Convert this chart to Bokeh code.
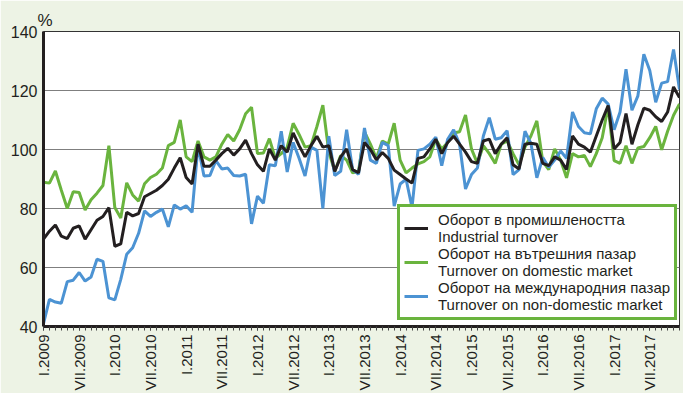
import numpy as np
from bokeh.plotting import figure
from bokeh.models import Range1d, FixedTicker, Legend, LegendItem
from bokeh.embed import file_html
from bokeh.resources import INLINE

# Monthly indices, I.2009 .. XII.2017 (%)
industrial = [
    69.6, 72.3, 74.4, 70.6, 69.8, 73.3, 74.1, 69.6, 72.8, 76.0, 77.3, 80.3,
    67.2, 68.0, 78.7, 77.5, 78.3, 84.0, 85.1, 86.2, 87.8, 89.9, 93.7, 97.2,
    90.5, 88.3, 101.8, 94.3, 94.3, 96.4, 98.6, 100.4, 98.1, 100.2, 103.2, 98.6,
    94.8, 92.6, 100.2, 96.4, 101.3, 99.1, 105.6, 101.3, 97.5, 101.3, 104.5, 100.8,
    101.3, 92.6, 97.5, 100.2, 93.2, 92.1, 102.4, 100.0, 96.5, 99.0, 97.0, 93.0,
    91.5, 90.0, 88.6, 97.0, 97.5, 100.2, 103.5, 98.6, 102.4, 104.5, 101.8, 99.1,
    95.9, 95.3, 102.9, 103.5, 98.6, 101.8, 104.0, 94.8, 93.4, 101.8, 102.1, 101.8,
    95.3, 94.5, 97.5, 96.4, 93.2, 104.6, 101.8, 100.8, 99.1, 104.6, 110.0, 114.9,
    100.2, 102.4, 112.2, 101.8, 108.4, 114.0, 113.3, 111.1, 109.5, 112.7, 121.2, 117.6,
]
domestic = [
    88.9, 88.6, 92.7, 86.2, 80.0, 85.7, 85.4, 79.5, 83.0, 85.2, 87.8, 101.3,
    80.3, 76.8, 88.7, 84.6, 82.5, 88.4, 90.5, 91.6, 93.7, 101.3, 102.4, 110.0,
    97.5, 95.9, 102.9, 97.5, 96.4, 97.5, 101.8, 105.1, 102.9, 106.7, 112.1, 114.3,
    98.6, 98.8, 103.7, 97.0, 98.6, 100.8, 108.9, 105.1, 100.8, 101.3, 107.8, 115.0,
    99.1, 92.6, 98.0, 96.4, 92.1, 92.6, 106.0, 101.8, 97.0, 102.9, 101.8, 108.9,
    96.4, 92.1, 93.7, 95.1, 95.9, 97.5, 103.5, 100.2, 102.4, 105.6, 106.0, 111.7,
    100.2, 95.3, 101.3, 98.6, 95.3, 101.8, 102.9, 98.6, 94.8, 100.8, 104.6, 109.7,
    95.9, 93.2, 100.2, 96.4, 90.4, 98.6, 97.5, 98.0, 94.2, 98.6, 104.0, 114.7,
    96.2, 95.3, 101.3, 95.3, 100.5, 101.0, 104.0, 107.8, 99.9, 106.2, 111.6, 115.4,
]
non_domestic = [
    41.0, 49.2, 48.3, 47.9, 55.2, 55.7, 58.3, 55.4, 56.8, 62.8, 62.1, 49.7,
    49.0, 56.0, 64.5, 66.7, 71.6, 79.2, 77.3, 78.7, 79.8, 73.8, 81.2, 79.8,
    80.9, 78.7, 101.3, 91.0, 91.2, 96.2, 93.4, 93.7, 91.2, 91.0, 91.6, 74.8,
    84.2, 81.8, 94.8, 94.5, 106.2, 92.4, 102.4, 97.0, 91.0, 100.8, 99.7, 80.0,
    104.5, 91.2, 92.6, 106.7, 93.2, 91.6, 107.3, 96.4, 95.3, 102.4, 101.3, 80.8,
    88.3, 89.9, 80.4, 99.7, 100.2, 101.8, 104.2, 94.5, 103.5, 106.7, 101.8, 86.6,
    91.5, 93.7, 104.6, 110.8, 103.5, 104.0, 106.4, 91.5, 93.2, 106.2, 102.1, 90.4,
    97.3, 94.0, 96.4, 99.5, 97.0, 112.7, 107.8, 105.7, 105.3, 113.8, 117.4, 115.4,
    106.7, 112.7, 127.2, 113.3, 118.2, 132.3, 126.8, 116.0, 122.5, 123.0, 133.9, 120.3,
]
tick_labels = [
    "I.2009", "VII.2009", "I.2010", "VII.2010", "I.2011", "VII.2011",
    "I.2012", "VII.2012", "I.2013", "VII.2013", "I.2014", "VII.2014",
    "I.2015", "VII.2015", "I.2016", "VII.2016", "I.2017", "VII.2017",
]
y_ticks = [40, 60, 80, 100, 120, 140]
series_labels = [
    "Оборот в промишлеността\nIndustrial turnover",
    "Оборот на вътрешния пазар\nTurnover on domestic market",
    "Оборот на международния пазар\nTurnover on non-domestic market",
]

BLACK = "#231F20"
GREEN = "#6AB43E"
BLUE = "#4C93D3"
PANEL = "#EDF3E5"
FONT = "Liberation Sans"

x = list(range(len(industrial)))
major = x[::6]

p = figure(width=683, height=393, output_backend="svg", toolbar_location=None,
           x_range=Range1d(0, len(x) - 1), y_range=Range1d(40, 140),
           min_border_left=43, min_border_right=4, min_border_top=31,
           min_border_bottom=66)
p.background_fill_color = "white"
p.border_fill_color = PANEL
p.outline_line_color = "#333333"
p.outline_line_width = 1

p.title.text = "%"
p.title.align = "left"
p.title.offset = -6
p.title.standoff = 4
p.title.text_font = FONT
p.title.text_font_size = "17px"
p.title.text_font_style = "normal"
p.title.text_color = BLACK

r_dom = p.line(x, domestic, line_color=GREEN, line_width=3)
r_non = p.line(x, non_domestic, line_color=BLUE, line_width=3)
r_ind = p.line(x, industrial, line_color=BLACK, line_width=3)

p.xgrid.grid_line_color = None
p.ygrid.grid_line_color = "#7F7F7F"
p.ygrid.grid_line_width = 1

xa = p.xaxis[0]
xa.ticker = FixedTicker(ticks=major, minor_ticks=x)
xa.major_label_overrides = {t: lab for t, lab in zip(major, tick_labels)}
xa.major_label_orientation = np.pi / 2
xa.axis_line_width = 3
xa.axis_line_color = BLACK
xa.major_tick_in = 0
xa.major_tick_out = 4
xa.minor_tick_in = 0
xa.minor_tick_out = 4
xa.major_tick_line_color = "#444444"
xa.minor_tick_line_color = "#444444"
xa.major_label_standoff = 4
xa.major_label_text_font = FONT
xa.major_label_text_font_size = "15px"
xa.major_label_text_color = BLACK

ya = p.yaxis[0]
ya.ticker = FixedTicker(ticks=y_ticks)
ya.axis_line_width = 3
ya.axis_line_color = BLACK
ya.major_tick_in = 0
ya.major_tick_out = 0
ya.minor_tick_line_color = None
ya.major_label_standoff = 6
ya.major_label_text_font = FONT
ya.major_label_text_font_size = "16px"
ya.major_label_text_color = BLACK

legend = Legend(items=[LegendItem(label=series_labels[0], renderers=[r_ind]),
                       LegendItem(label=series_labels[1], renderers=[r_dom]),
                       LegendItem(label=series_labels[2], renderers=[r_non])],
                location=(354, 6))
legend.border_line_color = GREEN
legend.border_line_width = 3
legend.border_line_alpha = 1
legend.background_fill_color = "white"
legend.background_fill_alpha = 1
legend.label_text_font = FONT
legend.label_text_font_size = "15px"
legend.label_text_color = BLACK
legend.label_text_line_height = 1.0
legend.glyph_width = 24
legend.label_standoff = 10
legend.padding = 4
legend.spacing = 0
legend.margin = 0
p.add_layout(legend)

open("out.html", "w").write(file_html(p, INLINE))
